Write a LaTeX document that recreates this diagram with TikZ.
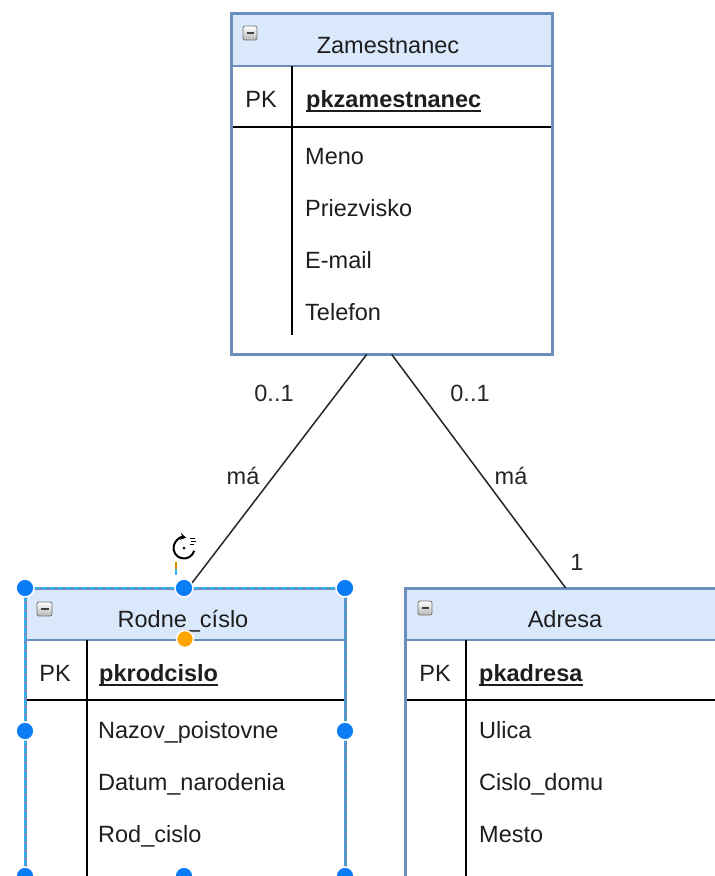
\documentclass[tikz,border=0pt]{standalone}
\usepackage{fontspec}
\setmainfont{Liberation Sans}
\usetikzlibrary{arrows.meta}
\definecolor{hdrfill}{HTML}{DAE8FC}
\definecolor{bord}{HTML}{6C8EBF}
\definecolor{selblue}{HTML}{29B6F2}
\definecolor{handleblue}{HTML}{0A7CF5}
\definecolor{handleorange}{HTML}{FFA500}
\definecolor{txt}{HTML}{1E1E1E}
\begin{document}
\begin{tikzpicture}[x=1pt,y=-1pt,
  every node/.style={font=\fontsize{23.5}{28}\selectfont, inner sep=0pt, text=txt},
  entity/.style={rectangle, fill=white, anchor=north west, inner sep=0pt},
  frame/.style={draw=bord, line width=3pt},
  hsep/.style={draw=bord, line width=2pt},
  inner/.style={draw=black, line width=1.5pt},
  title/.style={anchor=base},
  attr/.style={anchor=base west},
  pkname/.style={anchor=base west, font=\fontsize{23.5}{28}\selectfont\bfseries},
  conn/.style={draw=black!85, line width=1.5pt},
  lbl/.style={anchor=base, text=black!85},
  minusicon/.style={top color=white, bottom color=black!28, draw=black!55, line width=0.8pt, rounded corners=2pt},
  handle/.style={circle, fill=handleblue, draw=white, line width=1.5pt, minimum size=18pt, inner sep=0pt},
  ohandle/.style={circle, fill=handleorange, draw=white, line width=1.5pt, minimum size=17pt, inner sep=0pt}
]
\useasboundingbox (0,0) rectangle (715,876);
\clip (0,0) rectangle (715,876);
\fill[white] (0,0) rectangle (715,876);

% ---------------- Zamestnanec ----------------
\node[entity, minimum width=321pt, minimum height=341pt] (zam) at (231,13) {};
\fill[hdrfill] (231,13) rectangle (552,66);
\draw[hsep] (231,66) -- (552,66);
\draw[inner] (231,127) -- (552,127);
\draw[inner] (292,66) -- (292,335);
\draw[frame] (zam.north west) rectangle (zam.south east);
\shade[minusicon] (243,26) rectangle (257,40);
\draw[line width=1.6pt, black!75] (246.5,33) -- (253.5,33);
\node[title] (zamT) at (388,53) {Zamestnanec};
\node[title] (zamPK) at (261,107) {PK};
\node[pkname] (zamPKN) at (306,107) {pkzamestnanec};
\draw[line width=1.6pt, txt] ([yshift=-4pt]zamPKN.base west) -- ([yshift=-4pt]zamPKN.base east);
\node[attr] (zamA1) at (305,164) {Meno};
\node[attr] (zamA2) at (305,216) {Priezvisko};
\node[attr] (zamA3) at (305,268) {E-mail};
\node[attr] (zamA4) at (305,320) {Telefon};

% ---------------- Rodne_cislo ----------------
\node[entity, minimum width=320pt, minimum height=330pt] (rod) at (25,588) {};
\fill[hdrfill] (25,588) rectangle (345,640);
\draw[hsep] (25,640) -- (345,640);
\draw[inner] (25,700) -- (345,700);
\draw[inner] (87,640) -- (87,918);
\draw[frame] (rod.north west) rectangle (rod.south east);
\draw[selblue, line width=1.5pt, dash pattern=on 5pt off 3pt] (rod.north west) rectangle (rod.south east);
\shade[minusicon] (37,602) rectangle (52,616);
\draw[line width=1.6pt, black!75] (40.5,609) -- (48.5,609);
\node[title] (rodT) at (183,627) {Rodne\_císlo};
\node[title] (rodPK) at (55,681) {PK};
\node[pkname] (rodPKN) at (99,681) {pkrodcislo};
\draw[line width=1.6pt, txt] ([yshift=-4pt]rodPKN.base west) -- ([yshift=-4pt]rodPKN.base east);
\node[attr] (rodA1) at (98,738) {Nazov\_poistovne};
\node[attr] (rodA2) at (98,790) {Datum\_narodenia};
\node[attr] (rodA3) at (98,842) {Rod\_cislo};

% ---------------- Adresa ----------------
\node[entity, minimum width=321pt, minimum height=330pt] (adr) at (405,588) {};
\fill[hdrfill] (405,588) rectangle (726,640);
\draw[hsep] (405,640) -- (726,640);
\draw[inner] (405,700) -- (726,700);
\draw[inner] (466,640) -- (466,918);
\draw[frame] (adr.north west) rectangle (adr.south east);
\shade[minusicon] (418,601) rectangle (432,615);
\draw[line width=1.6pt, black!75] (421.5,608) -- (428.5,608);
\node[title] (adrT) at (565,627) {Adresa};
\node[title] (adrPK) at (435,681) {PK};
\node[pkname] (adrPKN) at (479,681) {pkadresa};
\draw[line width=1.6pt, txt] ([yshift=-4pt]adrPKN.base west) -- ([yshift=-4pt]adrPKN.base east);
\node[attr] (adrA1) at (479,738) {Ulica};
\node[attr] (adrA2) at (479,790) {Cislo\_domu};
\node[attr] (adrA3) at (479,842) {Mesto};

% ---------------- Connectors ----------------
\draw[conn] ([xshift=-25pt]zam.south) -- ([xshift=3pt]rod.north);
\draw[conn] (zam.south) -- (adr.north);
\node[lbl] (l1) at (274,401) {0..1};
\node[lbl] (l2) at (243,484) {má};
\node[lbl] (l3) at (470,401) {0..1};
\node[lbl] (l4) at (511,484) {má};
\node[lbl] (l5) at (577,570) {1};

% ---------------- Selection handles ----------------
\node[handle] (h1) at (25,588) {};
\node[handle] (h2) at (184,588) {};
\node[handle] (h3) at (345,588) {};
\node[handle] (h4) at (25,731) {};
\node[handle] (h5) at (345,731) {};
\node[handle] (h6) at (25,876) {};
\node[handle] (h7) at (184,876) {};
\node[handle] (h8) at (345,876) {};
\node[ohandle] (h9) at (185,639) {};
\draw[handleorange!85!black, line width=1.5pt] (176,562) -- (176,569);
\draw[selblue, line width=1.5pt] (176,569) -- (176,575);
\draw[black, line width=2pt, -{Stealth[length=6pt,width=7pt]}] (184,548) ++(15:10.5) arc (15:282:10.5);
\draw[black, line width=1pt] (190,538) -- (195,538) (191,541) -- (196,541) (190,544) -- (194,544);
\fill[black] (184,548) circle (1.5);
\end{tikzpicture}
\end{document}
